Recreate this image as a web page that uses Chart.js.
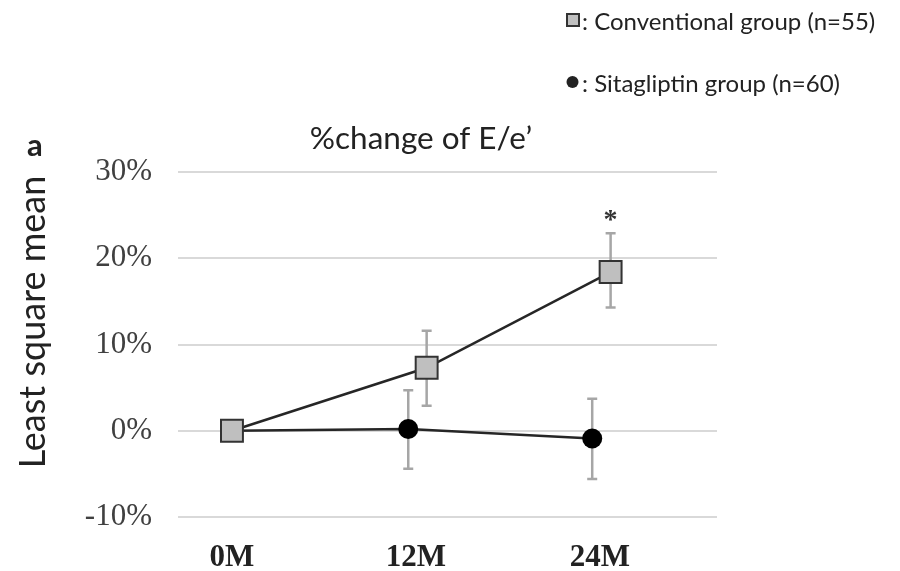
<!DOCTYPE html>
<html>
<head>
<meta charset="utf-8">
<script src="https://cdn.jsdelivr.net/npm/chart.js@4"></script>
<style>
  html, body { margin: 0; padding: 0; background: #fff; }
  #wrap { width: 900px; height: 571px; }
</style>
</head>
<body>
<div id="wrap"><canvas id="line-chart" width="900" height="571"></canvas></div>
<script>
// values (% change, least square mean)
var months = [0, 12, 24];
var monthLabels = ["0M", "12M", "24M"];
var yTicks = [-10, 0, 10, 20, 30];

var convMean  = [0, 7.3, 18.4];
var convUpper = [0, 11.6, 22.9];
var convLower = [0, 2.9, 14.3];

var sitaMean  = [0, 0.2, -0.9];
var sitaUpper = [0, 4.7, 3.7];
var sitaLower = [0, -4.4, -5.6];

var significant = [false, false, true]; // '*' over conventional group

var seriesNames = ["Conventional group (n=55)", "Sitagliptin group (n=60)"];

// small horizontal dodge (months) so the error bars do not overlap
function dodge(m, d) { return m === 0 ? m : m + d; }

function toPoints(means, d) {
    return months.map(function (m, i) { return { x: dodge(m, d), y: means[i] }; });
}

var sansFont = "Lato, 'Open Sans', sans-serif";

var errorBars = {
    id: 'errorBars',
    beforeDatasetsDraw: function (chart) {
        var ctx = chart.ctx;
        var xs = chart.scales.x, ys = chart.scales.y;
        var sets = [
            { d: 0.7, up: convUpper, lo: convLower },
            { d: -0.5, up: sitaUpper, lo: sitaLower }
        ];
        ctx.save();
        ctx.strokeStyle = '#a6a6a6';
        ctx.lineWidth = 2.5;
        sets.forEach(function (s) {
            months.forEach(function (m, i) {
                if (s.up[i] === s.lo[i]) return;
                var x = xs.getPixelForValue(dodge(m, s.d));
                var yt = ys.getPixelForValue(s.up[i]);
                var yb = ys.getPixelForValue(s.lo[i]);
                ctx.beginPath();
                ctx.moveTo(x, yt); ctx.lineTo(x, yb);
                ctx.moveTo(x - 5, yt); ctx.lineTo(x + 5, yt);
                ctx.moveTo(x - 5, yb); ctx.lineTo(x + 5, yb);
                ctx.stroke();
            });
        });
        ctx.restore();
    },
    afterDatasetsDraw: function (chart) {
        var ctx = chart.ctx;
        var xs = chart.scales.x, ys = chart.scales.y;
        ctx.save();
        ctx.fillStyle = '#333';
        ctx.font = "bold 28px 'Liberation Serif', serif";
        ctx.textAlign = 'center';
        ctx.textBaseline = 'middle';
        months.forEach(function (m, i) {
            if (!significant[i]) return;
            ctx.fillText('*', xs.getPixelForValue(dodge(m, 0.7)), ys.getPixelForValue(convUpper[i]) - 12);
        });
        ctx.restore();
    }
};

var annotations = {
    id: 'annotations',
    afterDraw: function (chart) {
        var ctx = chart.ctx;
        ctx.save();
        ctx.fillStyle = '#222';

        // chart title
        ctx.font = "31.5px " + sansFont;
        ctx.textAlign = 'center';
        ctx.textBaseline = 'alphabetic';
        ctx.fillText("%change of E/e\u2019", 421, 149);

        // panel letter
        ctx.font = "bold 31px " + sansFont;
        ctx.textAlign = 'left';
        ctx.fillText("a", 27, 156);

        // y axis title
        ctx.save();
        ctx.translate(45, 322);
        ctx.rotate(-Math.PI / 2);
        ctx.font = "36px " + sansFont;
        ctx.textAlign = 'center';
        ctx.fillText("Least square mean", 0, 0);
        ctx.restore();

        // legend
        ctx.font = "24px " + sansFont;
        ctx.textAlign = 'left';
        ctx.textBaseline = 'middle';
        ctx.fillStyle = '#c0c0c0';
        ctx.fillRect(567, 14, 12, 12);
        ctx.strokeStyle = '#333';
        ctx.lineWidth = 2;
        ctx.strokeRect(567, 14, 12, 12);
        ctx.fillStyle = '#222';
        ctx.fillText(": " + seriesNames[0], 582, 22);
        ctx.beginPath();
        ctx.arc(572.5, 82, 6, 0, Math.PI * 2);
        ctx.fill();
        ctx.fillText(": " + seriesNames[1], 582, 84);
        ctx.restore();
    }
};

new Chart(document.getElementById("line-chart"), {
    type: 'line',
    data: {
        datasets: [{
            label: seriesNames[0],
            data: toPoints(convMean, 0.7),
            borderColor: '#262626',
            borderWidth: 2.5,
            pointStyle: 'rect',
            pointRadius: 15.5,
            pointBackgroundColor: '#bfbfbf',
            pointBorderColor: '#333',
            pointBorderWidth: 2
        }, {
            label: seriesNames[1],
            data: toPoints(sitaMean, -0.5),
            borderColor: '#262626',
            borderWidth: 2.5,
            pointStyle: 'circle',
            pointRadius: 10,
            pointBackgroundColor: '#000',
            pointBorderColor: '#000',
            pointBorderWidth: 0
        }]
    },
    options: {
        responsive: false,
        animation: false,
        events: [],
        layout: { padding: { left: 83, right: 183, top: 172, bottom: 0 } },
        plugins: {
            legend: { display: false },
            title: { display: false },
            tooltip: { enabled: false }
        },
        scales: {
            x: {
                type: 'linear',
                min: -3.52,
                max: 31.64,
                afterBuildTicks: function (scale) {
                    scale.ticks = months.map(function (m) { return { value: m }; });
                },
                afterFit: function (scale) { scale.height = 54; },
                grid: { display: false },
                border: { display: false },
                ticks: {
                    autoSkip: false,
                    maxRotation: 0,
                    padding: 14,
                    color: '#222',
                    font: { family: "'Liberation Serif', serif", size: 31, weight: 'bold' },
                    callback: function (v) { return monthLabels[months.indexOf(v)]; }
                }
            },
            y: {
                min: -10,
                max: 30,
                afterBuildTicks: function (scale) {
                    scale.ticks = yTicks.map(function (v) { return { value: v }; });
                },
                afterFit: function (scale) { scale.width = 95; },
                grid: { color: '#d9d9d9', lineWidth: 2, drawTicks: false },
                border: { display: false },
                ticks: {
                    padding: 26,
                    color: '#404040',
                    font: { family: "'Liberation Serif', serif", size: 31 },
                    callback: function (v) { return v + '%'; }
                }
            }
        }
    },
    plugins: [errorBars, annotations]
});
</script>
</body>
</html>
